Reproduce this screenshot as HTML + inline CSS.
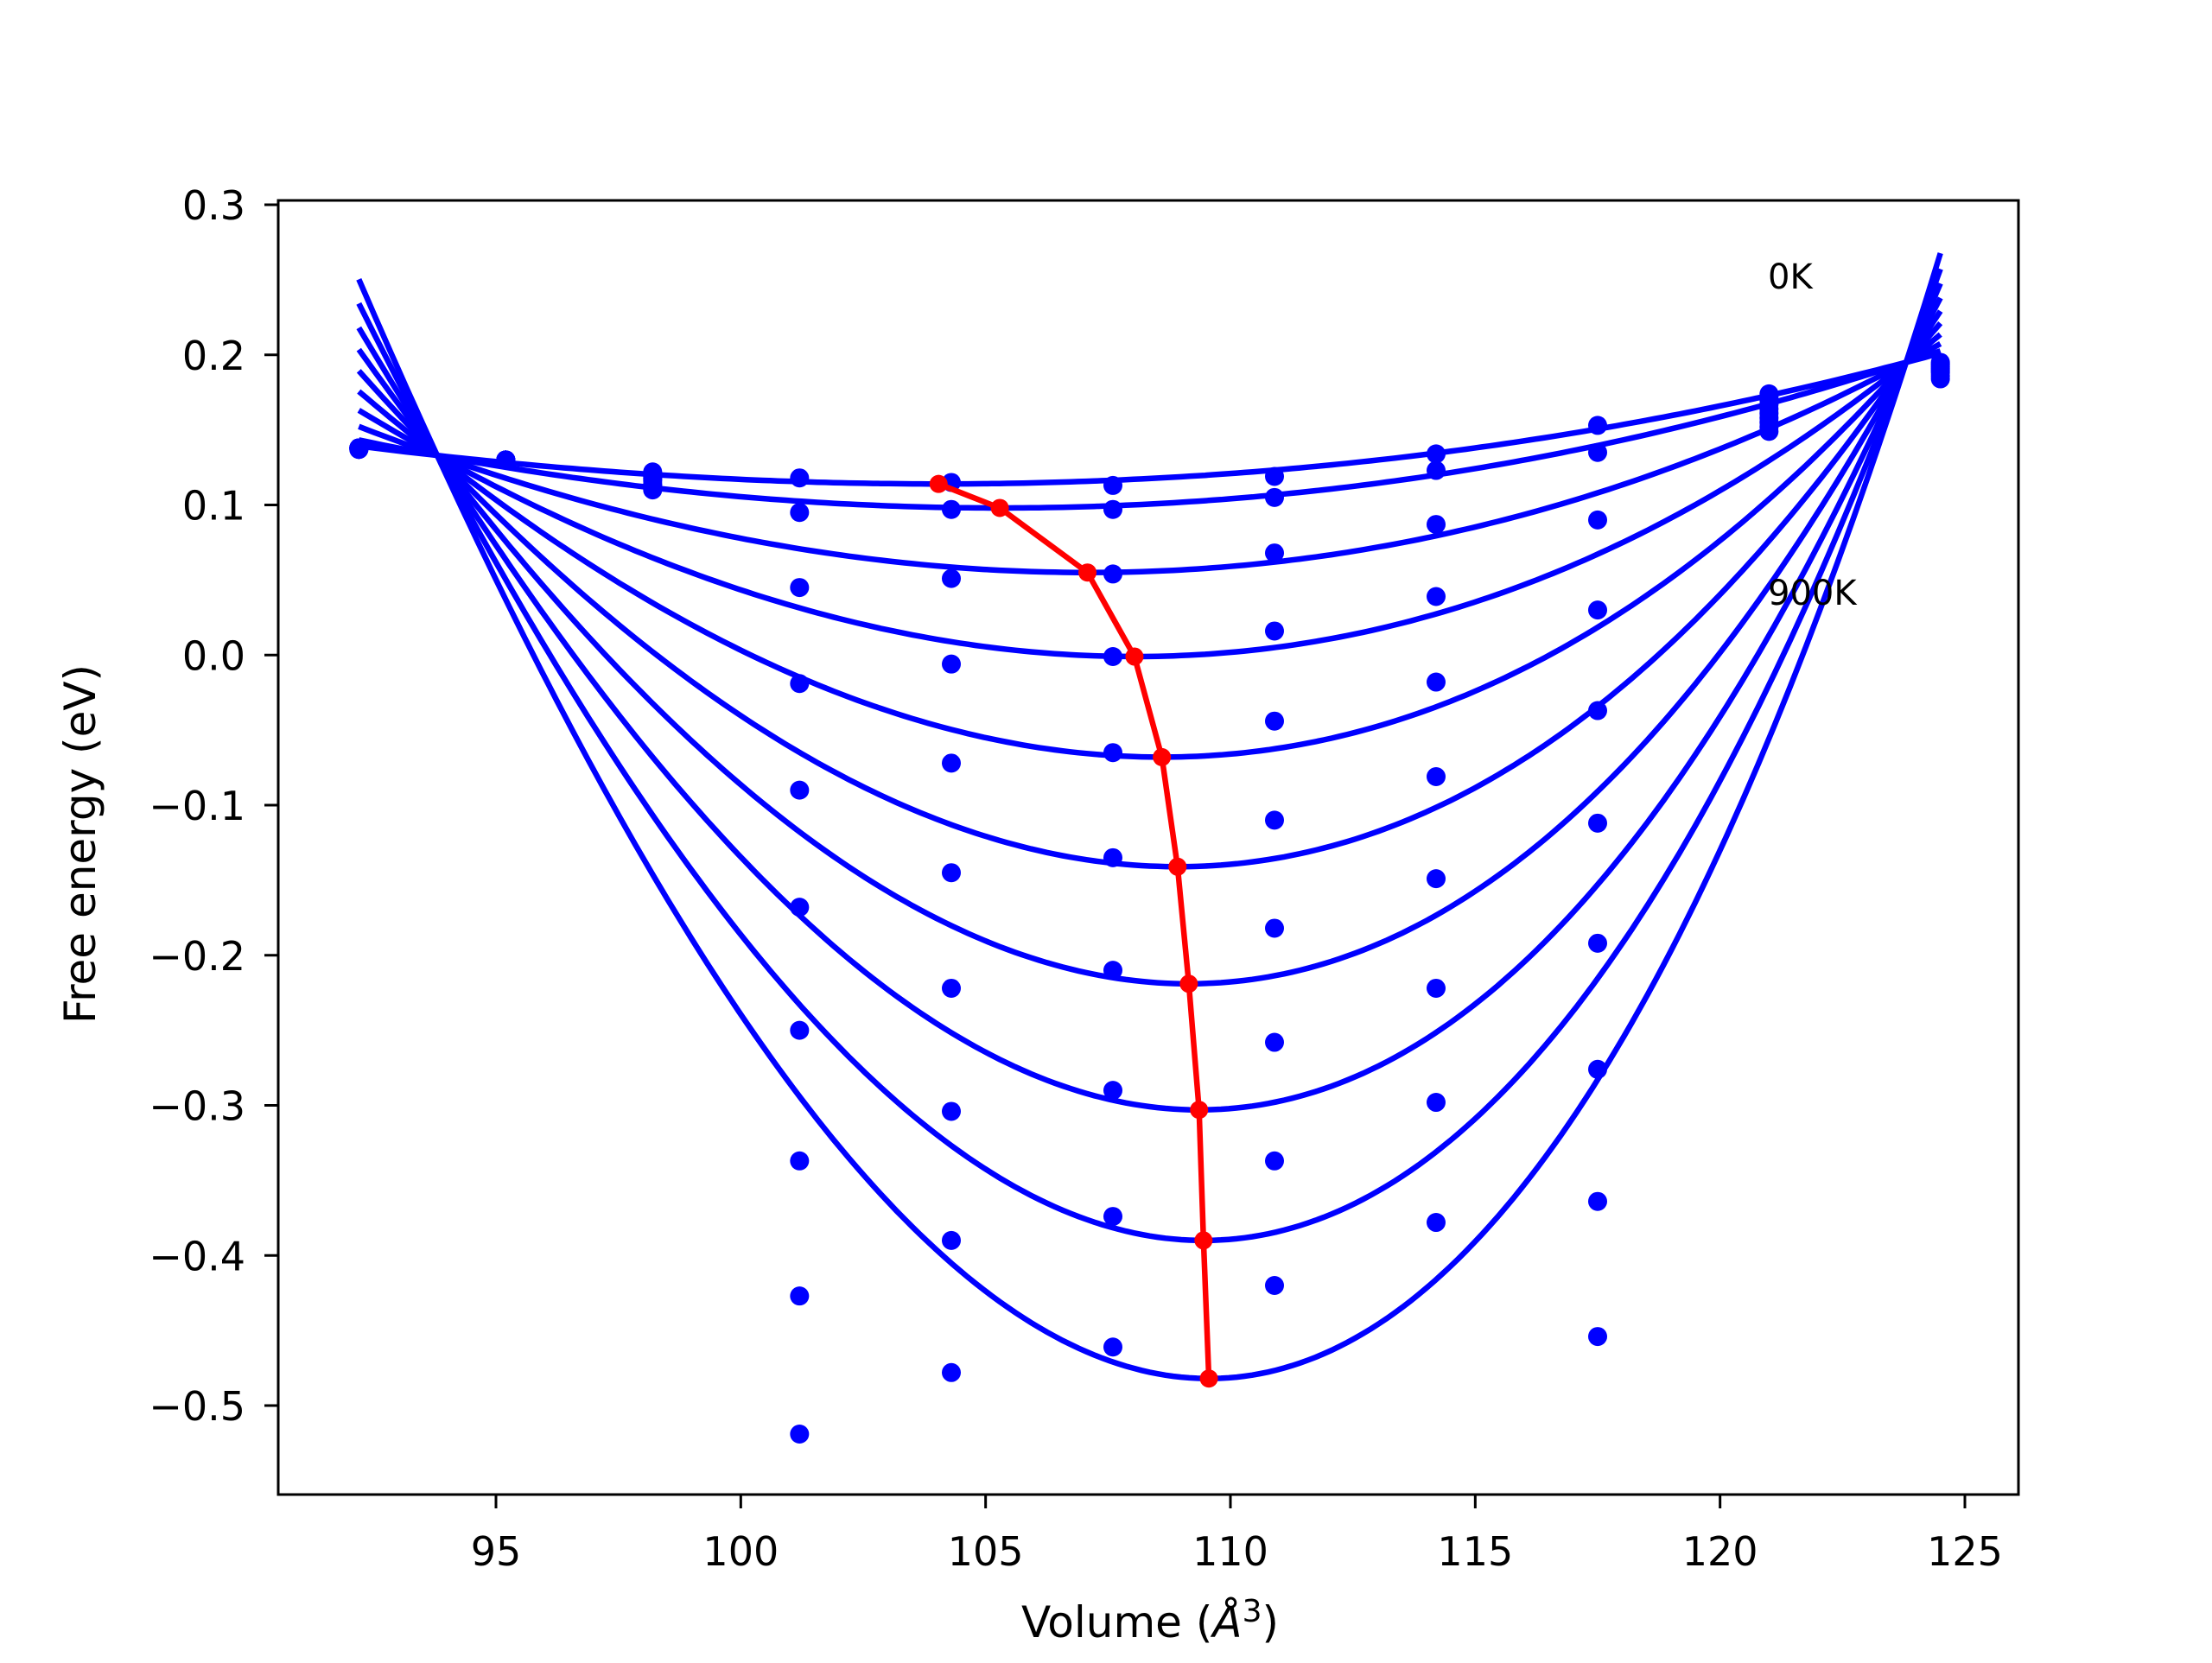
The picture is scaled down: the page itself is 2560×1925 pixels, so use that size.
<!DOCTYPE html>
<html><head><meta charset="utf-8"><style>
html,body{margin:0;padding:0;background:#fff}
svg text{font-family:"DejaVu Sans","Liberation Sans",sans-serif}
</style></head><body>
<svg id="chart" width="2560" height="1920" viewBox="0 0 2560 1920" xmlns="http://www.w3.org/2000/svg">
<rect width="2560" height="1920" fill="#fff"/>
<g id="plot"></g>
<rect x="322" y="232" width="2014" height="1498" fill="none" stroke="#000" stroke-width="3"/>
<g id="axes"></g>
<text x="2046" y="334" font-size="40">0K</text>
<text x="2046" y="700" font-size="40">900K</text>
<text x="1331" y="1895" font-size="50" text-anchor="middle">Volume (<tspan font-style="italic">Å</tspan><tspan font-size="36" dy="-18">3</tspan><tspan dy="18">)</tspan></text>
<text x="0" y="0" font-size="50" text-anchor="middle" transform="translate(110,977) rotate(-90)">Free energy (eV)</text>
</svg>
<script>
const volumes = [92.2, 95.2, 98.2, 101.2, 104.3, 107.6, 110.9, 114.2, 117.5, 121.0, 124.5];
const temps = ["0K","100K","200K","300K","400K","500K","600K","700K","800K","900K"];
const dots0 = [0.138,0.130,0.122,0.118,0.115,0.113,0.119,0.134,0.153,0.174,0.195];
const dots1 = [0.138,0.130,0.121,0.095,0.097,0.097,0.105,0.123,0.135,0.172,0.194];
const dots2 = [0.138,0.130,0.119,0.045,0.051,0.054,0.068,0.087,0.090,0.170,0.193];
const dots3 = [0.138,0.130,0.118,-0.019,-0.006,-0.001,0.016,0.039,0.030,0.167,0.192];
const dots4 = [0.138,0.130,0.117,-0.090,-0.072,-0.065,-0.044,-0.018,-0.037,0.164,0.191];
const dots5 = [0.138,0.130,0.116,-0.168,-0.145,-0.135,-0.110,-0.081,-0.112,0.161,0.190];
const dots6 = [0.138,0.130,0.114,-0.250,-0.222,-0.210,-0.182,-0.149,-0.192,0.158,0.189];
const dots7 = [0.137,0.130,0.113,-0.337,-0.304,-0.290,-0.258,-0.222,-0.276,0.155,0.188];
const dots8 = [0.137,0.130,0.112,-0.427,-0.390,-0.374,-0.337,-0.298,-0.364,0.152,0.186];
const dots9 = [0.137,0.130,0.110,-0.519,-0.478,-0.461,-0.420,-0.378,-0.454,0.149,0.184];
const minVolumes = [104.04,105.29,107.08,108.04,108.6,108.92,109.15,109.36,109.45,109.56];
const minEnergies = [0.114,0.098,0.055,-0.001,-0.068,-0.141,-0.219,-0.303,-0.390,-0.482];
const crossLeft = [93.8, 0.133];
const crossRight = [123.8, 0.195];
const xTicks = [95,100,105,110,115,120,125];
const yTicks = [0.3,0.2,0.1,0.0,-0.1,-0.2,-0.3,-0.4,-0.5];
const yTickLabels = ["0.3","0.2","0.1","0.0","\u22120.1","\u22120.2","\u22120.3","\u22120.4","\u22120.5"];
const curveRange = [92.2, 124.5];

const NS = "http://www.w3.org/2000/svg";
function px(v){ return 574 + (v-95)*1700/30; }
function py(e){ return 237 + (0.3-e)*1390/0.8; }
const plot = document.getElementById('plot');
const axes = document.getElementById('axes');
function mk(tag, attrs, parent){ const el=document.createElementNS(NS,tag); for(const k in attrs) el.setAttribute(k, attrs[k]); parent.appendChild(el); return el; }

for(let t=0;t<temps.length;t++){
  const V0=minVolumes[t], E0=minEnergies[t];
  const d1=crossLeft[0]-V0, r1=crossLeft[1]-E0, d2=crossRight[0]-V0, r2=crossRight[1]-E0;
  const det=d1*d1*d2*d2*d2 - d2*d2*d1*d1*d1;
  const a=(r1*d2*d2*d2 - r2*d1*d1*d1)/det;
  const b=(d1*d1*r2 - d2*d2*r1)/det;
  let d="";
  for(let i=0;i<=200;i++){
    const v=curveRange[0]+(curveRange[1]-curveRange[0])*i/200, x=v-V0;
    const e=E0+a*x*x+b*x*x*x;
    d+=(i?"L":"M")+px(v).toFixed(1)+","+py(e).toFixed(1);
  }
  const p=mk('path',{d:d,fill:'none',stroke:'#0000ff','stroke-width':6.5},plot);
  
  
}
const allDots=[dots0,dots1,dots2,dots3,dots4,dots5,dots6,dots7,dots8,dots9];
allDots.forEach((arr,t)=>{
  arr.forEach((e,i)=>{
    const c=mk('circle',{cx:px(volumes[i]),cy:py(e),r:11,fill:'#0000ff'},plot);
    
    
  });
});
let dm="";
minVolumes.forEach((v,i)=>{ dm+=(i?"L":"M")+px(v)+","+py(minEnergies[i]); });
const ml=mk('path',{d:dm,fill:'none',stroke:'#ff0000','stroke-width':6.5,'stroke-linejoin':'round'},plot);


minVolumes.forEach((v,i)=>{
  const c=mk('circle',{cx:px(v),cy:py(minEnergies[i]),r:10.5,fill:'#ff0000'},plot);
  
  
});
xTicks.forEach(v=>{
  const l=mk('line',{x1:px(v),x2:px(v),y1:1730,y2:1746,stroke:'#000','stroke-width':3},axes);
  
  
  const t=mk('text',{x:px(v),y:1812,'font-size':46,'text-anchor':'middle'},axes);
  t.textContent=String(v);
  
  
});
yTicks.forEach((e,i)=>{
  const l=mk('line',{x1:306,x2:322,y1:py(e),y2:py(e),stroke:'#000','stroke-width':3},axes);
  
  
  const t=mk('text',{x:284,y:py(e)+17,'font-size':46,'text-anchor':'end'},axes);
  t.textContent=yTickLabels[i];
  
  
});
</script>
</body></html>
